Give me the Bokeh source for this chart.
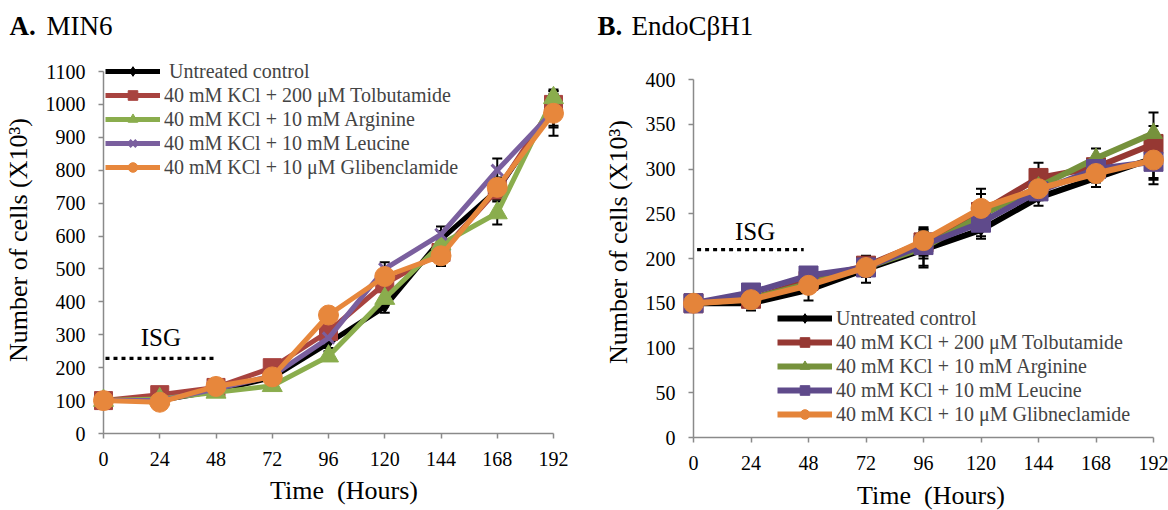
from bokeh.embed import file_html
from bokeh.layouts import column, row
from bokeh.models import (ColumnDataSource, FixedTicker, Label, Legend,
                          LegendItem, Range1d, TeeHead, Whisker)
from bokeh.plotting import figure
from bokeh.resources import INLINE

FONT = "Liberation Serif"

hours = [0, 24, 48, 72, 96, 120, 144, 168, 192]

# MIN6 cell counts (x10^3) and their error margins
min6_labels = [
    "\u00a0Untreated control",
    "40 mM KCl + 200 \u03bcM Tolbutamide",
    "40 mM KCl + 10 mM Arginine",
    "40 mM KCl + 10 mM Leucine",
    "40 mM KCl + 10 \u03bcM Glibenclamide",
]
min6_untreated = [100, 100, 130, 170, 275, 385, 590, 740, 990]
min6_tolbutamide = [100, 118, 140, 200, 310, 455, 550, 740, 1000]
min6_arginine = [100, 105, 125, 145, 235, 410, 575, 670, 1020]
min6_leucine = [100, 100, 135, 175, 290, 500, 605, 800, 980]
min6_glibenclamide = [100, 95, 143, 172, 360, 477, 540, 748, 973]

min6_err_untreated = [5, 5, 10, 10, 15, 18, 25, 30, 55]
min6_err_tolbutamide = [5, 8, 8, 10, 15, 20, 20, 25, 30]
min6_err_arginine = [5, 5, 5, 8, 15, 20, 20, 35, 20]
min6_err_leucine = [5, 5, 8, 10, 15, 20, 24, 36, 50]
min6_err_glibenclamide = [5, 5, 8, 10, 15, 20, 31, 30, 68]

# EndoCbetaH1 cell counts (x10^3) and their error margins
endo_labels = [
    "Untreated control",
    "40 mM KCl + 200 \u03bcM Tolbutamide",
    "40 mM KCl + 10 mM Arginine",
    "40 mM KCl + 10 mM Leucine",
    "40 mM KCl + 10 \u03bcM Glibneclamide",
]
endo_untreated = [150, 150, 165, 188, 210, 232, 268, 290, 312]
endo_tolbutamide = [150, 155, 175, 192, 218, 252, 290, 302, 328]
endo_arginine = [150, 155, 172, 190, 212, 248, 280, 312, 340]
endo_leucine = [150, 162, 181, 190, 215, 240, 275, 300, 308]
endo_glibneclamide = [150, 154, 170, 190, 220, 256, 278, 295, 310]

endo_err_untreated = [2, 8, 12, 15, 20, 10, 9, 10, 29]
endo_err_tolbutamide = [2, 5, 8, 10, 15, 20, 17, 10, 20]
endo_err_arginine = [2, 5, 8, 10, 20, 15, 10, 11, 23]
endo_err_leucine = [2, 5, 9, 10, 15, 15, 10, 10, 20]
endo_err_glibneclamide = [2, 5, 8, 10, 15, 22, 10, 10, 20]

# ISG marker (period of insulin secretagogue treatment)
isg_hours_min6 = [0.85, 47]
isg_level_min6 = [228, 228]
isg_hours_endo = [1.5, 46]
isg_level_endo = [210, 210]

AXIS_GREY = "#8a8a8a"
HEADER_H = 46
FIG_W = 584
FIG_H = 510 - HEADER_H


def make_panel(ymax, ystep, plot_w, plot_h, left_px, zero_y, xlabel_standoff):
    """Panel whose axes sit on the frame's left/bottom edges at (0, 0).
    plot_w/plot_h: pixel length of the 0..192 and 0..ymax spans,
    left_px: x of the y axis inside the figure, zero_y: y of the x axis
    inside the figure (from the figure top)."""
    frame_w = FIG_W - left_px
    frame_h = zero_y
    x_end = 192 * frame_w / plot_w
    y_end = ymax * frame_h / plot_h
    p = figure(
        frame_width=frame_w, frame_height=frame_h,
        min_border_left=left_px, min_border_right=0,
        min_border_top=0, min_border_bottom=FIG_H - frame_h,
        x_range=Range1d(0, x_end), y_range=Range1d(0, y_end),
        output_backend="svg", toolbar_location=None,
        outline_line_color=None,
    )
    p.xgrid.visible = False
    p.ygrid.visible = False
    p.xaxis.bounds = (0, 192)
    p.yaxis.bounds = (0, ymax)
    p.xaxis.ticker = FixedTicker(ticks=hours)
    p.yaxis.ticker = FixedTicker(ticks=list(range(0, ymax + 1, ystep)))
    for ax in (p.xaxis[0], p.yaxis[0]):
        ax.axis_line_color = AXIS_GREY
        ax.axis_line_width = 1.5
        ax.major_tick_line_color = AXIS_GREY
        ax.major_tick_line_width = 1.5
        ax.major_tick_in = 0
        ax.major_tick_out = 5
        ax.minor_tick_line_color = None
        ax.major_label_text_font = FONT
        ax.major_label_text_font_size = "20px"
        ax.major_label_text_color = "black"
        ax.axis_label_text_font = FONT
        ax.axis_label_text_font_size = "26px"
        ax.axis_label_text_font_style = "normal"
        ax.axis_label_text_color = "black"
    p.xaxis.major_label_standoff = 13
    p.xaxis.axis_label_standoff = xlabel_standoff
    p.yaxis.major_label_standoff = 13
    p.yaxis.axis_label_standoff = 10
    p.xaxis.axis_label = "Time\u00a0 (Hours)"
    p.yaxis.axis_label = "Number of cells (X10\u00b3)"
    return p


def add_series(p, ys, errs, color, marker, msize, lw, label, items, marker_lw=1):
    src = ColumnDataSource(dict(
        x=hours, y=ys,
        upper=[y + e for y, e in zip(ys, errs)],
        lower=[y - e for y, e in zip(ys, errs)],
    ))
    w = Whisker(base="x", upper="upper", lower="lower", source=src,
                line_color="black", line_width=2, level="underlay",
                upper_head=TeeHead(size=10, line_color="black", line_width=2),
                lower_head=TeeHead(size=10, line_color="black", line_width=2))
    p.add_layout(w)
    r_line = p.line("x", "y", source=src, line_color=color, line_width=lw,
                    line_join="round", level="overlay")
    if marker == "x":
        r_mark = p.scatter("x", "y", source=src, marker="x", size=msize,
                           line_color=color, line_width=marker_lw, level="overlay")
    else:
        r_mark = p.scatter("x", "y", source=src, marker=marker, size=msize,
                           fill_color=color, line_color=color, level="overlay")
    items.append(LegendItem(label=label, renderers=[r_line, r_mark]))


def add_legend(p, items, loc):
    leg = Legend(items=items, location=loc, glyph_width=55, glyph_height=24,
                 label_height=24, spacing=0, padding=0, margin=0,
                 border_line_color=None, background_fill_alpha=0,
                 label_text_font=FONT, label_text_font_size="20px",
                 label_standoff=4)
    p.add_layout(leg)


def add_text(p, x, y, text, size, style="normal", align="left"):
    p.add_layout(Label(x=x, y=y, text=text, text_font=FONT, text_font_size=size,
                       text_font_style=style, text_align=align,
                       text_baseline="middle", text_color="black"))


# ---- panel titles ----
header = figure(width=2 * FIG_W, height=HEADER_H, x_range=Range1d(0, 2 * FIG_W),
                y_range=Range1d(HEADER_H, 0), x_axis_location=None,
                y_axis_location=None, min_border=0, outline_line_color=None,
                output_backend="svg", toolbar_location=None)
header.grid.visible = False
add_text(header, 9, 25, "A.", "27px", style="bold")
add_text(header, 46, 25, "MIN6", "27px")
add_text(header, 597, 25, "B.", "27px", style="bold")
add_text(header, 631, 25, "EndoC\u03b2H1", "27px")

# ---- A. MIN6 ----
pa = make_panel(1100, 100, 450, 362, 103, 433 - HEADER_H, 7)
pa.line(isg_hours_min6, isg_level_min6, line_color="black", line_width=3.3, line_dash="4 4")
add_text(pa, 24.5, 291, "ISG", "25px", align="center")
items_a = []
add_series(pa, min6_untreated, min6_err_untreated, "#000000", "diamond", 12, 5, min6_labels[0], items_a)
add_series(pa, min6_tolbutamide, min6_err_tolbutamide, "#A8433F", "square", 18, 5, min6_labels[1], items_a)
add_series(pa, min6_arginine, min6_err_arginine, "#8AAD4D", "triangle", 20, 5, min6_labels[2], items_a)
add_series(pa, min6_leucine, min6_err_leucine, "#7A5F9E", "x", 16, 5, min6_labels[3], items_a, marker_lw=3)
add_series(pa, min6_glibenclamide, min6_err_glibenclamide, "#E7873C", "circle", 20, 5, min6_labels[4], items_a)
add_legend(pa, items_a, (2, 254))

# ---- B. EndoCbetaH1 ----
pb = make_panel(400, 50, 460, 358, 109, 437 - HEADER_H, 8)
pb.line(isg_hours_endo, isg_level_endo, line_color="black", line_width=3.3, line_dash="4 4")
add_text(pb, 25.7, 230.7, "ISG", "25px", align="center")
items_b = []
add_series(pb, endo_untreated, endo_err_untreated, "#000000", "diamond", 12, 6, endo_labels[0], items_b)
add_series(pb, endo_tolbutamide, endo_err_tolbutamide, "#963833", "square", 19, 6, endo_labels[1], items_b)
add_series(pb, endo_arginine, endo_err_arginine, "#76923C", "triangle", 18, 6, endo_labels[2], items_b)
add_series(pb, endo_leucine, endo_err_leucine, "#5F4A8B", "square", 19, 6, endo_labels[3], items_b)
add_series(pb, endo_glibneclamide, endo_err_glibneclamide, "#E4843A", "circle", 20, 6, endo_labels[4], items_b)
add_legend(pb, items_b, (84, 11))

layout = column(header, row(pa, pb))
open("out.html", "w").write(file_html(layout, INLINE))
